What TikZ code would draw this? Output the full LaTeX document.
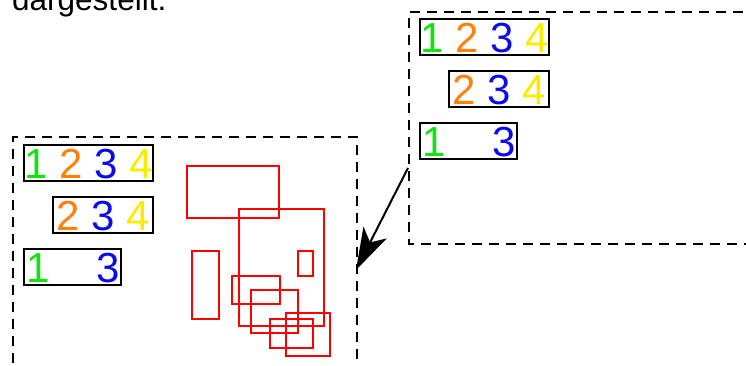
\documentclass[tikz,border=0pt]{standalone}
\usepackage{fontspec}
\setmainfont{Liberation Sans}
\usetikzlibrary{arrows.meta, positioning}
\definecolor{digGreen}{RGB}{20,225,20}
\definecolor{digOrange}{RGB}{255,128,10}
\definecolor{digBlue}{RGB}{10,10,235}
\definecolor{digYellow}{RGB}{250,235,0}
\tikzset{
    digitBox/.style={draw, line width=2pt, inner xsep=2pt, inner ysep=0pt, text height=33pt, text depth=3pt, anchor=west, font=\fontsize{42}{42}\selectfont},
    frameLine/.style={draw, dash pattern=on 10pt off 7pt, line width=1.6pt},
    redBox/.style={draw=red, line width=2.6pt},
    bigArrow/.style={-{Stealth[length=42pt, width=26pt, inset=11pt]}, line width=2pt},
}
\newcommand{\dOne}{\textcolor{digGreen}{1}}
\newcommand{\dTwo}{\textcolor{digOrange}{2}}
\newcommand{\dThree}{\textcolor{digBlue}{3}}
\newcommand{\dFour}{\textcolor{digYellow}{4}}
\newcommand{\rowFull}{\dOne\ \dTwo\ \dThree\ \dFour}
\newcommand{\rowTail}{\dTwo\ \dThree\ \dFour}
\newcommand{\rowGap}{\dOne\ \phantom{2}\ \dThree}

\begin{document}
\begin{tikzpicture}[x=1pt, y=-1pt]
    \useasboundingbox (0,0) rectangle (746,365);
    % cut-off caption line
    \node[anchor=base west, inner sep=0pt, font=\fontsize{31.5}{31.5}\selectfont] (caption) at (12,10) {dargestellt.};

    % left frame
    \draw[frameLine] (13,380) -- (13,137) -- (357,137) -- (357,380);
    \node[digitBox, inner xsep=0.5pt] (lFull) at (23,163) {\rowFull};
    \node[digitBox, inner xsep=3.5pt] (lTail) at (52,215) {\rowTail};
    \node[digitBox] (lGap) at (23,267) {\rowGap};

    \draw[redBox] (187,166) rectangle (279,218);
    \draw[redBox] (239,209) rectangle (324,326);
    \draw[redBox] (192,251) rectangle (219,319);
    \draw[redBox] (298,251) rectangle (313,276);
    \draw[redBox] (232,276) rectangle (280,304);
    \draw[redBox] (251,290) rectangle (298,333);
    \draw[redBox] (270,319) rectangle (313,348);
    \draw[redBox] (286,313) rectangle (330,356);

    % right frame
    \draw[frameLine] (760,12) -- (409,12) -- (409,244) -- (760,244);
    \node[digitBox, inner xsep=0.5pt] (rFull) at (419,37) {\rowFull};
    \node[digitBox, inner xsep=3.5pt] (rTail) at (448,89) {\rowTail};
    \node[digitBox] (rGap) at (419,141) {\rowGap};

    \coordinate (arrFrom) at (408,168);
    \coordinate (arrTo) at (356,270);
    \draw[bigArrow] (arrFrom) -- (arrTo);
\end{tikzpicture}
\end{document}
